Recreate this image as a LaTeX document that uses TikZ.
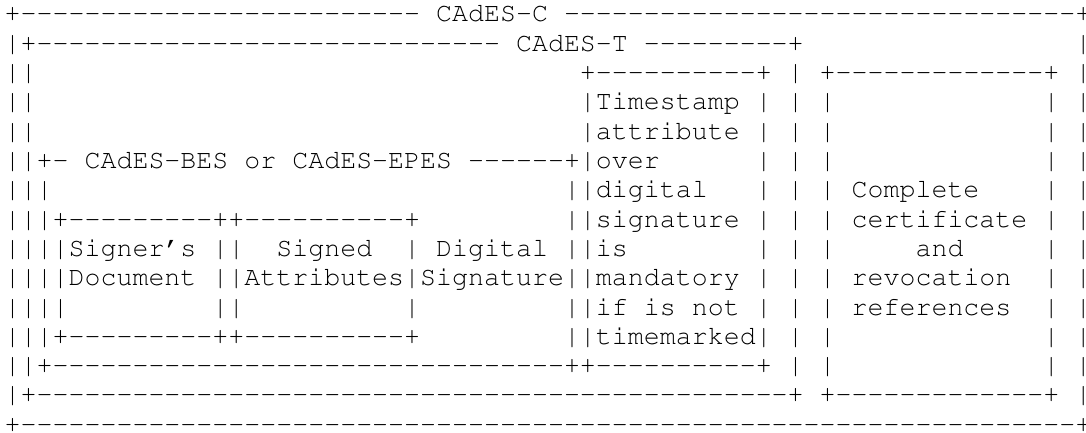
\documentclass[tikz,border=0pt]{standalone}
\usepackage[T1,TU]{fontenc}
\newdimen\cellw
\cellw=7.99pt
\ExplSyntaxOn
\cs_new:Npn \Dsh #1 { \prg_replicate:nn {#1} {-} }
\cs_new:Npn \Spc #1 { \prg_replicate:nn {#1} {.} }
\str_new:N \l_asc_line_str
\NewDocumentCommand \asciiline { m }
  {
    \str_set:Nx \l_asc_line_str {#1}
    \str_map_inline:Nn \l_asc_line_str
      {
        \str_if_eq:nnTF {##1} {.}
          { \hbox_to_wd:nn {\cellw} {} }
          { \hbox_to_wd:nn {\cellw} { \hss ##1 \hss } }
      }
    \kern -4pt
  }
\ExplSyntaxOff
\newcommand\ascfont{\fontencoding{T1}\fontfamily{pcr}\fontseries{m}\fontshape{n}\fontsize{13.3pt}{14pt}\selectfont}
\tikzset{asc/.style={inner sep=0pt, outer sep=0pt, anchor=base west, font=\ascfont, text=black}}
\begin{document}
\begin{tikzpicture}
\fill[white] (0,0) rectangle (543pt,-216.5pt);
\useasboundingbox (0,0) rectangle (543pt,-216.5pt);
\node[asc] (l1)  at (2.35pt,-11.00pt)  {\asciiline{+\Dsh{25}.CAdES-C.\Dsh{32}+}};
\node[asc] (l2)  at (2.35pt,-25.65pt)  {\asciiline{|+\Dsh{29}.CAdES-T.\Dsh{9}+\Spc{17}|}};
\node[asc] (l3)  at (2.35pt,-40.30pt)  {\asciiline{||\Spc{34}+\Dsh{10}+.|.+\Dsh{13}+.|}};
\node[asc] (l4)  at (2.35pt,-54.95pt)  {\asciiline{||\Spc{34}|Timestamp.|.|.|\Spc{13}|.|}};
\node[asc] (l5)  at (2.35pt,-69.60pt)  {\asciiline{||\Spc{34}|attribute.|.|.|\Spc{13}|.|}};
\node[asc] (l6)  at (2.35pt,-84.25pt)  {\asciiline{||+-.CAdES-BES.or.CAdES-EPES.\Dsh{6}+|over\Spc{6}|.|.|\Spc{13}|.|}};
\node[asc] (l7)  at (2.35pt,-98.90pt)  {\asciiline{|||\Spc{32}||digital\Spc{3}|.|.|.Complete\Spc{4}|.|}};
\node[asc] (l8)  at (2.35pt,-113.55pt) {\asciiline{|||+\Dsh{9}++\Dsh{10}+\Spc{9}||signature.|.|.|.certificate.|.|}};
\node[asc] (l9)  at (2.35pt,-128.20pt) {\asciiline{||||Signer's.||..Signed..|.Digital.||is\Spc{8}|.|.|\Spc{5}and\Spc{5}|.|}};
\node[asc] (l10) at (2.35pt,-142.85pt) {\asciiline{||||Document.||Attributes|Signature||mandatory.|.|.|.revocation..|.|}};
\node[asc] (l11) at (2.35pt,-157.50pt) {\asciiline{||||\Spc{9}||\Spc{10}|\Spc{9}||if.is.not.|.|.|.references..|.|}};
\node[asc] (l12) at (2.35pt,-172.15pt) {\asciiline{|||+\Dsh{9}++\Dsh{10}+\Spc{9}||timemarked|.|.|\Spc{13}|.|}};
\node[asc] (l13) at (2.35pt,-186.80pt) {\asciiline{||+\Dsh{32}++\Dsh{10}+.|.|\Spc{13}|.|}};
\node[asc] (l14) at (2.35pt,-201.45pt) {\asciiline{|+\Dsh{47}+.+\Dsh{13}+.|}};
\node[asc] (l15) at (2.35pt,-216.10pt) {\asciiline{+\Dsh{66}+}};
\end{tikzpicture}
\end{document}
